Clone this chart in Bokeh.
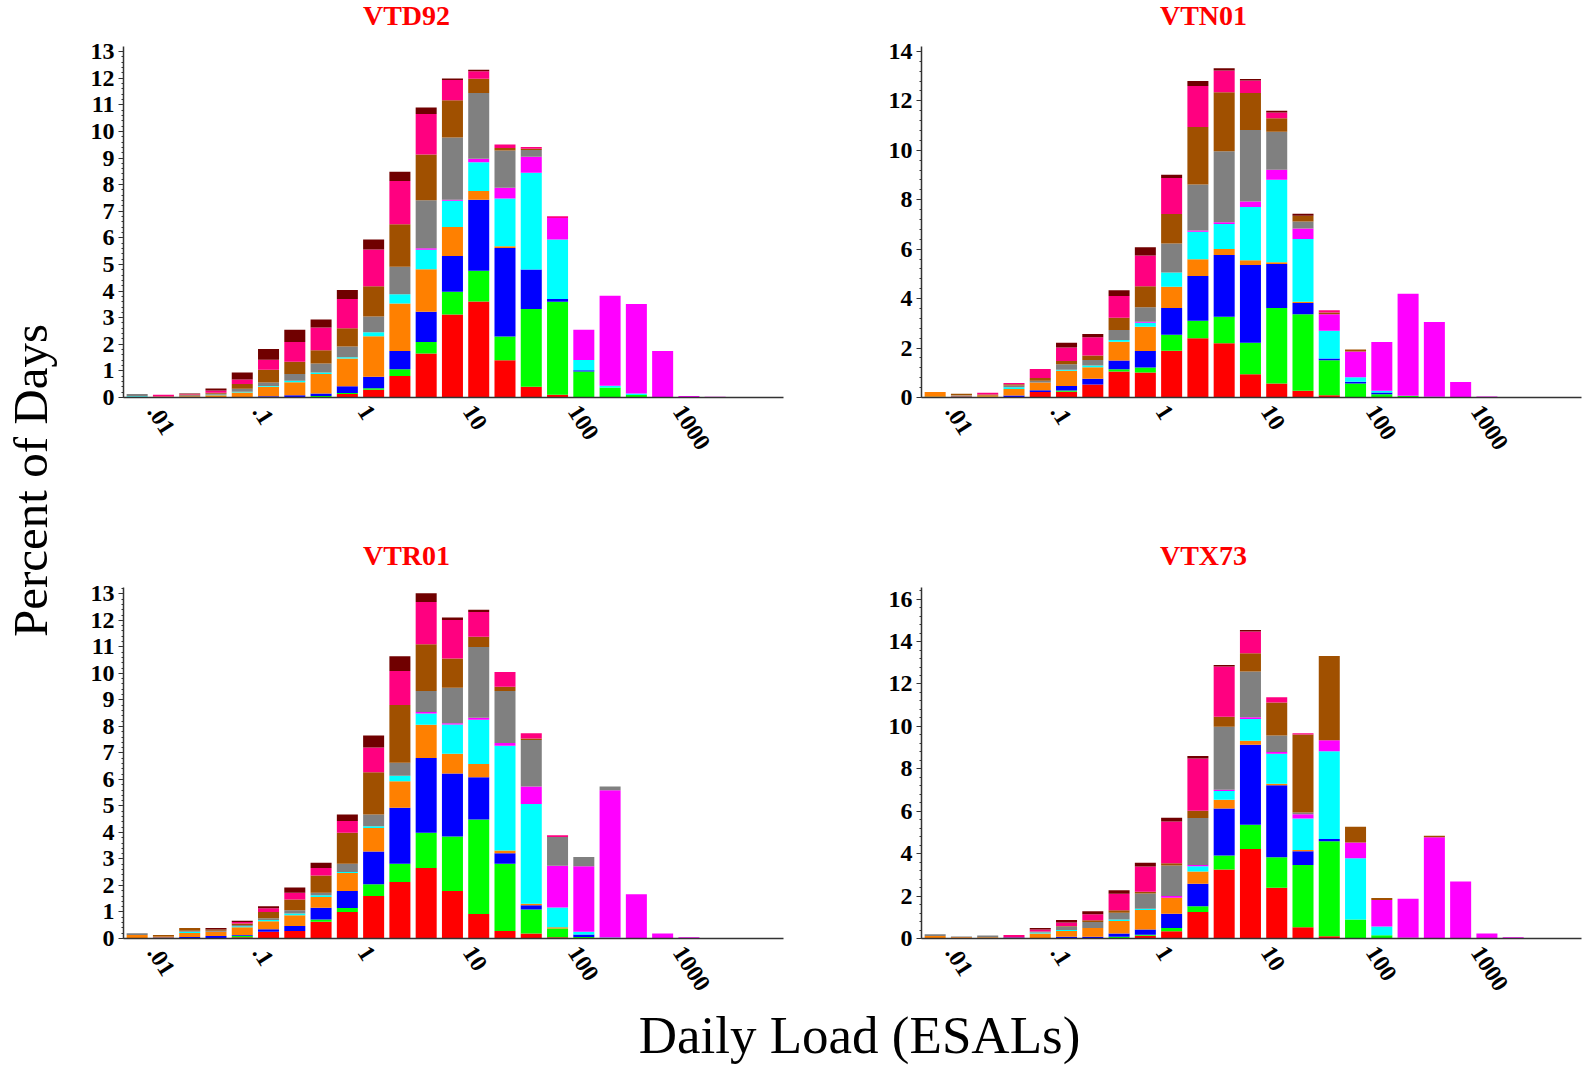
import numpy as np
from bokeh.plotting import figure
from bokeh.models import Range1d, FixedTicker, SingleIntervalTicker, Label, ColumnDataSource
from bokeh.layouts import row, column
from bokeh.embed import file_html
from bokeh.resources import INLINE

# Lower edges of the quarter-decade load bins (ESALs)
BIN_LOW = [0.005623, 0.01, 0.017783, 0.031623, 0.056234, 0.1, 0.17783, 0.31623,
           0.56234, 1.0, 1.7783, 3.1623, 5.6234, 10.0, 17.783, 31.623, 56.234,
           100.0, 177.83, 316.23, 562.34, 1000.0, 1778.3]

X_TICKS = [0.01, 0.1, 1, 10, 100, 1000]
X_TICK_LABELS = [".01", ".1", "1", "10", "100", "1000"]

SERIES = ["red", "green", "blue", "orange", "cyan", "magenta", "gray", "brown", "pink", "maroon"]
COLORS = ["#FF0000", "#00FF00", "#0000FF", "#FF8000", "#00FFFF", "#FF00FF",
          "#808080", "#A05000", "#FF0080", "#700000"]

# ---- VTD92 ----
D92_RED = [0, 0, 0, 0, 0, 0, 0, 0, 0.13, 0.29, 0.81, 1.65, 3.12, 3.61, 1.40, 0.40, 0.10, 0, 0, 0, 0, 0, 0]
D92_GREEN = [0, 0, 0, 0, 0, 0, 0, 0.06, 0.04, 0.06, 0.25, 0.44, 0.85, 1.15, 0.89, 2.93, 3.50, 0.98, 0.38, 0.09, 0, 0, 0]
D92_BLUE = [0.02, 0, 0.02, 0.02, 0, 0.05, 0.08, 0.09, 0.25, 0.43, 0.69, 1.13, 1.35, 2.67, 3.33, 1.48, 0.10, 0.04, 0, 0, 0, 0, 0]
D92_ORANGE = [0, 0.04, 0.03, 0.06, 0.19, 0.35, 0.49, 0.73, 1.05, 1.52, 1.78, 1.60, 1.09, 0.33, 0.06, 0, 0, 0, 0, 0, 0, 0, 0]
D92_CYAN = [0.03, 0, 0, 0.02, 0.03, 0.03, 0.06, 0.06, 0.04, 0.15, 0.35, 0.73, 0.98, 1.08, 1.80, 3.64, 2.24, 0.39, 0.06, 0.06, 0, 0, 0]
D92_MAGENTA = [0, 0, 0, 0, 0, 0, 0, 0, 0, 0, 0, 0.06, 0.04, 0.13, 0.40, 0.60, 0.81, 1.14, 3.38, 3.36, 1.75, 0.06, 0.03]
D92_GRAY = [0.08, 0, 0.03, 0.04, 0.11, 0.13, 0.25, 0.34, 0.41, 0.59, 1.03, 1.80, 2.34, 2.47, 1.40, 0.25, 0, 0, 0, 0, 0, 0, 0]
D92_BROWN = [0, 0, 0.03, 0.04, 0.18, 0.48, 0.46, 0.50, 0.68, 1.14, 1.60, 1.72, 1.40, 0.54, 0.10, 0.05, 0, 0, 0, 0, 0, 0, 0]
D92_PINK = [0, 0.06, 0.02, 0.08, 0.17, 0.38, 0.75, 0.85, 1.10, 1.38, 1.63, 1.52, 0.76, 0.28, 0.13, 0.06, 0.06, 0, 0, 0, 0, 0, 0]
D92_MAROON = [0, 0, 0.02, 0.08, 0.26, 0.40, 0.46, 0.30, 0.34, 0.38, 0.34, 0.25, 0.06, 0.06, 0, 0, 0, 0, 0, 0, 0, 0, 0]

# ---- VTN01 ----
N01_RED = [0, 0, 0, 0, 0.22, 0.23, 0.53, 1.05, 1.01, 1.89, 2.40, 2.19, 0.94, 0.57, 0.27, 0.09, 0, 0, 0, 0, 0, 0]
N01_GREEN = [0.03, 0, 0.03, 0, 0, 0.05, 0, 0.09, 0.20, 0.65, 0.70, 1.08, 1.28, 3.05, 3.10, 1.42, 0.57, 0.13, 0.07, 0, 0, 0]
N01_BLUE = [0, 0.04, 0, 0.08, 0.07, 0.19, 0.23, 0.36, 0.67, 1.08, 1.82, 2.50, 3.14, 1.78, 0.45, 0.07, 0.07, 0.07, 0, 0, 0, 0]
N01_ORANGE = [0.19, 0.04, 0.05, 0.26, 0.32, 0.61, 0.46, 0.76, 0.98, 0.86, 0.67, 0.24, 0.19, 0.07, 0.05, 0, 0, 0, 0, 0, 0, 0]
N01_CYAN = [0, 0, 0, 0.07, 0, 0.04, 0.07, 0.07, 0.16, 0.58, 1.12, 1.01, 2.16, 3.34, 2.54, 1.12, 0.18, 0.07, 0, 0.03, 0, 0]
N01_MAGENTA = [0, 0, 0, 0, 0, 0, 0, 0, 0.04, 0, 0.05, 0.07, 0.22, 0.40, 0.43, 0.67, 1.04, 1.98, 4.13, 3.02, 0.63, 0.04]
N01_GRAY = [0, 0.02, 0, 0.08, 0.07, 0.23, 0.23, 0.40, 0.59, 1.17, 1.86, 2.87, 2.89, 1.54, 0.28, 0, 0, 0, 0, 0, 0, 0]
N01_BROWN = [0, 0.05, 0.04, 0.05, 0.11, 0.13, 0.18, 0.50, 0.85, 1.19, 2.32, 2.39, 1.50, 0.55, 0.23, 0.07, 0.08, 0, 0, 0, 0, 0]
N01_PINK = [0, 0, 0.07, 0.05, 0.36, 0.54, 0.74, 0.88, 1.24, 1.46, 1.66, 0.88, 0.50, 0.23, 0, 0.09, 0, 0, 0, 0, 0, 0]
N01_MAROON = [0, 0, 0, 0, 0, 0.19, 0.13, 0.23, 0.34, 0.13, 0.20, 0.09, 0.07, 0.07, 0.08, 0, 0, 0, 0, 0, 0, 0]

# ---- VTR01 ----
R01_RED = [0, 0, 0, 0, 0.05, 0.25, 0.28, 0.63, 1.00, 1.60, 2.13, 2.66, 1.79, 0.92, 0.28, 0.19, 0.05, 0, 0, 0, 0, 0]
R01_GREEN = [0, 0, 0, 0, 0.05, 0, 0, 0.09, 0.15, 0.45, 0.69, 1.33, 2.06, 3.57, 2.54, 0.90, 0.33, 0.06, 0.02, 0, 0, 0]
R01_BLUE = [0, 0.04, 0.06, 0.09, 0.03, 0.10, 0.19, 0.44, 0.64, 1.23, 2.11, 2.82, 2.37, 1.59, 0.40, 0.16, 0, 0.09, 0, 0, 0, 0]
R01_ORANGE = [0.13, 0.04, 0.15, 0.16, 0.29, 0.30, 0.41, 0.41, 0.68, 0.89, 1.00, 1.25, 0.75, 0.50, 0.10, 0.06, 0.04, 0, 0, 0, 0, 0]
R01_CYAN = [0, 0, 0.04, 0, 0.04, 0.05, 0.06, 0.06, 0.04, 0.06, 0.21, 0.43, 1.10, 1.67, 3.95, 3.76, 0.75, 0.10, 0.02, 0, 0, 0]
R01_MAGENTA = [0, 0, 0, 0, 0, 0, 0, 0, 0, 0, 0, 0.05, 0.05, 0.08, 0.10, 0.66, 1.57, 2.48, 5.55, 1.67, 0.19, 0.05]
R01_GRAY = [0.07, 0, 0.04, 0.04, 0.05, 0.06, 0.13, 0.10, 0.31, 0.45, 0.49, 0.80, 1.34, 2.67, 1.97, 1.76, 1.09, 0.34, 0.14, 0, 0, 0]
R01_BROWN = [0, 0.05, 0.11, 0.05, 0.06, 0.24, 0.40, 0.65, 1.17, 1.59, 2.18, 1.76, 1.10, 0.38, 0.16, 0.05, 0, 0, 0, 0, 0, 0]
R01_PINK = [0, 0, 0, 0, 0.05, 0.14, 0.26, 0.28, 0.44, 0.93, 1.28, 1.59, 1.45, 0.94, 0.55, 0.20, 0.06, 0, 0, 0, 0, 0]
R01_MAROON = [0, 0, 0, 0.06, 0.05, 0.08, 0.19, 0.20, 0.25, 0.46, 0.56, 0.33, 0.10, 0.08, 0, 0, 0, 0, 0, 0, 0, 0]

# ---- VTX73 ----
X73_RED = [0, 0, 0, 0, 0, 0, 0, 0, 0.13, 0.34, 1.25, 3.25, 4.22, 2.39, 0.53, 0.11, 0, 0.02, 0, 0, 0, 0, 0]
X73_GREEN = [0, 0, 0, 0, 0, 0, 0, 0.08, 0.05, 0.16, 0.27, 0.66, 1.14, 1.44, 2.94, 4.47, 0.89, 0.13, 0.03, 0, 0, 0, 0]
X73_BLUE = [0, 0.04, 0, 0.05, 0, 0.08, 0.08, 0.16, 0.25, 0.67, 1.06, 2.22, 3.78, 3.39, 0.64, 0.11, 0, 0, 0, 0, 0, 0, 0]
X73_ORANGE = [0.12, 0.03, 0.06, 0, 0.23, 0.27, 0.42, 0.59, 0.91, 0.75, 0.58, 0.41, 0.19, 0.08, 0.06, 0, 0, 0, 0, 0, 0, 0, 0]
X73_CYAN = [0, 0, 0, 0, 0.05, 0.05, 0, 0.06, 0.06, 0, 0.25, 0.42, 1.02, 1.41, 1.49, 4.14, 2.89, 0.42, 0, 0, 0, 0, 0]
X73_MAGENTA = [0, 0, 0, 0, 0, 0, 0, 0, 0, 0.08, 0.06, 0.05, 0.08, 0.08, 0.20, 0.52, 0.75, 1.25, 1.85, 4.77, 2.69, 0.23, 0.06]
X73_GRAY = [0.08, 0.03, 0.08, 0, 0.05, 0.16, 0.28, 0.33, 0.72, 1.44, 2.21, 2.97, 2.16, 0.78, 0.08, 0, 0, 0, 0, 0, 0, 0, 0]
X73_BROWN = [0, 0, 0, 0, 0, 0.03, 0.08, 0.11, 0.08, 0.11, 0.34, 0.48, 0.86, 1.56, 3.68, 3.97, 0.74, 0.09, 0, 0.08, 0, 0, 0]
X73_PINK = [0, 0, 0, 0.11, 0.09, 0.17, 0.28, 0.78, 1.20, 1.97, 2.47, 2.36, 1.02, 0.25, 0.06, 0, 0, 0, 0, 0, 0, 0, 0]
X73_MAROON = [0, 0, 0, 0, 0.08, 0.11, 0.14, 0.16, 0.17, 0.17, 0.11, 0.08, 0.08, 0, 0, 0, 0, 0, 0, 0, 0, 0, 0]

PANEL_NAMES = ["VTD92", "VTN01", "VTR01", "VTX73"]
PANEL_DATA = [
    [D92_RED, D92_GREEN, D92_BLUE, D92_ORANGE, D92_CYAN, D92_MAGENTA, D92_GRAY, D92_BROWN, D92_PINK, D92_MAROON],
    [N01_RED, N01_GREEN, N01_BLUE, N01_ORANGE, N01_CYAN, N01_MAGENTA, N01_GRAY, N01_BROWN, N01_PINK, N01_MAROON],
    [R01_RED, R01_GREEN, R01_BLUE, R01_ORANGE, R01_CYAN, R01_MAGENTA, R01_GRAY, R01_BROWN, R01_PINK, R01_MAROON],
    [X73_RED, X73_GREEN, X73_BLUE, X73_ORANGE, X73_CYAN, X73_MAGENTA, X73_GRAY, X73_BROWN, X73_PINK, X73_MAROON],
]
Y_MAX = [13.19, 14.2, 13.24, 16.55]
Y_STEP = [1, 2, 1, 2]

FONT = "Liberation Serif"
BAR_FRAC = 0.8           # bar width as fraction of the bin (in log space)
BIN_LOG_WIDTH = 0.25
X_START, X_END = 10 ** -2.28, 10 ** 4.0


def make_panel(idx, width, height, bl, br, bt, bb):
    p = figure(width=width, height=height, x_axis_type="log",
               x_range=Range1d(X_START, X_END), y_range=Range1d(0, Y_MAX[idx]),
               output_backend="svg", toolbar_location=None,
               min_border_left=bl, min_border_right=br, min_border_top=bt, min_border_bottom=bb)
    p.outline_line_color = None
    p.xgrid.visible = False
    p.ygrid.visible = False

    data = PANEL_DATA[idx]
    n = len(data[0])
    low = np.array(BIN_LOW[:n])
    high = low * 10 ** (BIN_LOG_WIDTH * BAR_FRAC)
    bottom = np.zeros(n)
    for k, vals in enumerate(data):
        v = np.array(vals, dtype=float)
        src = ColumnDataSource(dict(left=low, right=high, bottom=bottom.copy(), top=bottom + v))
        p.quad(left="left", right="right", bottom="bottom", top="top", source=src,
               fill_color=COLORS[k], line_color=None)
        bottom = bottom + v

    xa = p.xaxis[0]
    xa.ticker = FixedTicker(ticks=X_TICKS, minor_ticks=[])
    xa.major_label_overrides = {t: l for t, l in zip(X_TICKS, X_TICK_LABELS)}
    xa.major_label_orientation = -1.0
    xa.major_tick_out = 0
    xa.major_tick_in = 0
    xa.minor_tick_out = 0
    xa.minor_tick_in = 0
    xa.major_label_standoff = 10
    xa.axis_line_color = "#333333"
    xa.axis_line_width = 1.5
    xa.major_label_text_font = FONT
    xa.major_label_text_font_style = "bold"
    xa.major_label_text_font_size = "24px"
    xa.major_label_text_color = "black"

    ya = p.yaxis[0]
    ya.ticker = SingleIntervalTicker(interval=Y_STEP[idx], num_minor_ticks=5)
    ya.major_tick_out = 5
    ya.major_tick_in = 0
    ya.minor_tick_out = 2
    ya.minor_tick_in = 0
    ya.major_label_standoff = 4
    ya.axis_line_color = "#333333"
    ya.axis_line_width = 1.5
    ya.major_tick_line_color = "#333333"
    ya.minor_tick_line_color = "#333333"
    ya.major_label_text_font = FONT
    ya.major_label_text_font_style = "bold"
    ya.major_label_text_font_size = "24px"
    ya.major_label_text_color = "black"
    return p


def text_strip(width, height, items, size, color, style="normal", angle=0.0):
    """items: list of (text, x_from_left, y_from_top)"""
    f = figure(width=width, height=height, x_range=Range1d(0, width), y_range=Range1d(0, height),
               x_axis_type=None, y_axis_type=None, output_backend="svg", toolbar_location=None,
               min_border=0)
    f.outline_line_color = None
    f.xgrid.visible = False
    f.ygrid.visible = False
    for text, x, y in items:
        f.add_layout(Label(x=x, y=height - y, text=text, angle=angle, text_align="center",
                           text_baseline="middle", text_font=FONT, text_font_style=style,
                           text_font_size=size, text_color=color))
    return f


# panel figures (frames: 660 wide; top row 351 tall, bottom row 352 tall)
p1 = make_panel(0, 761, 461, 63, 38, 10, 100)
p2 = make_panel(1, 764, 461, 100, 4, 10, 100)
p3 = make_panel(2, 761, 429, 63, 38, 17, 60)
p4 = make_panel(3, 764, 429, 100, 4, 17, 60)

# title strips spanning both columns
ttop = text_strip(1525, 36, [(PANEL_NAMES[0], 346, 15), (PANEL_NAMES[1], 1143, 15)],
                  "28px", "#FF0000", "bold")
tbot = text_strip(1525, 73, [(PANEL_NAMES[2], 346, 58), (PANEL_NAMES[3], 1143, 58)],
                  "28px", "#FF0000", "bold")

ylab = text_strip(60, 1069, [("Percent of Days", 30, 480)], "49px", "black", angle=np.pi / 2)
xlab = text_strip(1525, 70, [("Daily Load (ESALs)", 799, 35)], "53px", "black")

layout = row(ylab, column(ttop, row(p1, p2), tbot, row(p3, p4), xlab))

open("out.html", "w").write(file_html(layout, INLINE))
